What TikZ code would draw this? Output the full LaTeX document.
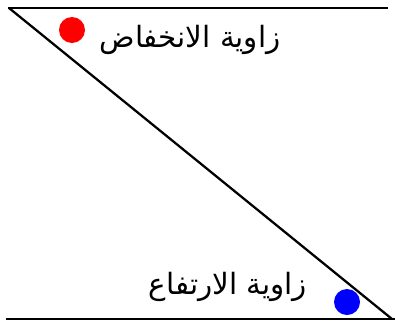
\documentclass[tikz,border=0pt]{standalone}
\usepackage{fontspec}
\newfontfamily\arabicfont[Script=Arabic]{DejaVu Sans}
\TeXXeTstate=1
\begin{document}
\begin{tikzpicture}[x=0.75pt,y=-0.75pt,
  lin/.style={line width=1.7pt,black},
  dot/.style={circle,inner sep=0pt,minimum size=19.5pt},
  lbl/.style={inner sep=0pt,font=\arabicfont\fontsize{22}{26}\selectfont}]
\useasboundingbox (0,0) rectangle (395,322);
\coordinate (tl) at (8,8);
\coordinate (tr) at (388,8);
\coordinate (bl) at (6,319);
\coordinate (br) at (395,319);
\coordinate (dt) at (9,8);
\coordinate (db) at (392,319);
\draw[lin] (tl) -- (tr);
\draw[lin] (bl) -- (br);
\draw[lin] (dt) -- (db);
\node[dot,fill=red] (rd) at (72,30) {};
\node[dot,fill=blue] (bd) at (347,302) {};
\node[lbl] (t1) at (190,40) {\beginR زاوية الانخفاض\endR};
\node[lbl] (t2) at (228,287) {\beginR زاوية الارتفاع\endR};
\end{tikzpicture}
\end{document}
